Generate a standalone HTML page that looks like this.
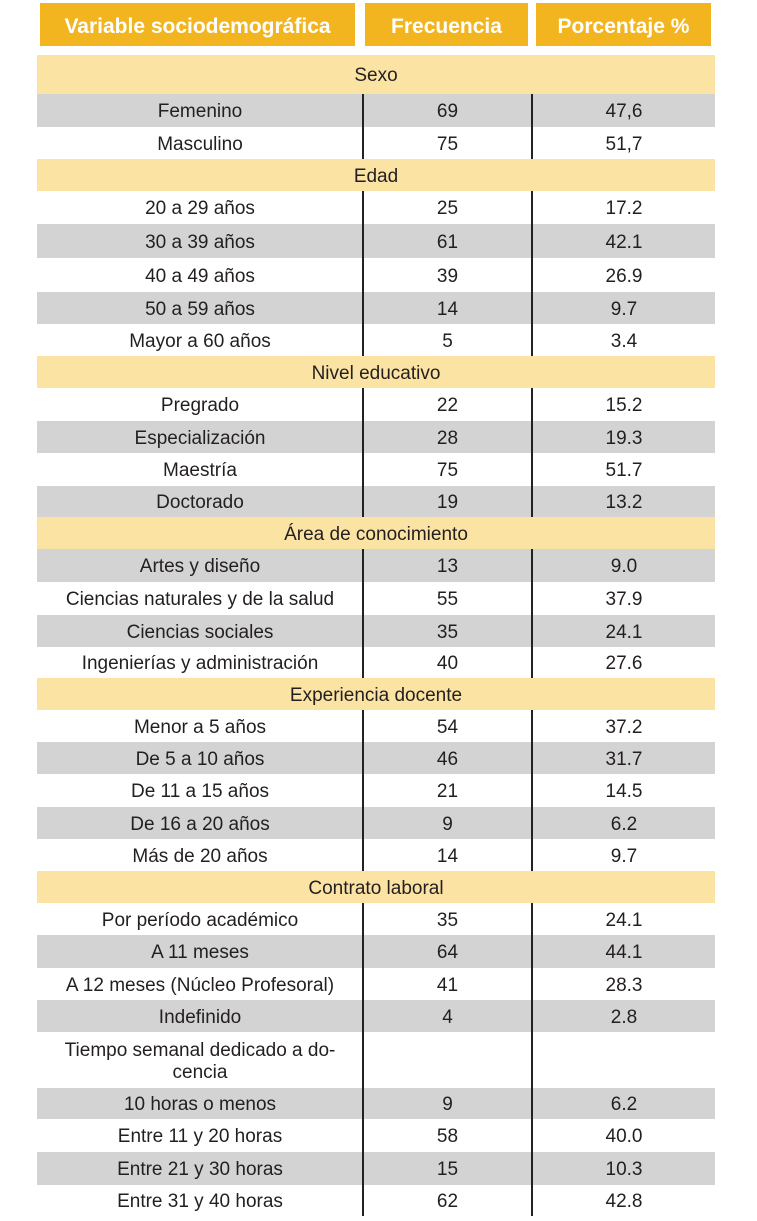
<!DOCTYPE html>
<html><head><meta charset="utf-8">
<style>
body{margin:0;width:757px;height:1221px;background:#fff;position:relative;overflow:hidden;font-family:"Liberation Sans",sans-serif;color:#231f20}
.h{position:absolute;top:3px;height:43px;background:#F2B51F;color:#fff;font-weight:bold;font-size:21px;display:flex;align-items:center;justify-content:center;padding-top:4px;box-sizing:border-box}
.r{position:absolute;left:37px;width:678px}
.c{position:absolute;top:0;bottom:0;display:flex;align-items:center;justify-content:center;text-align:center;font-size:19px;line-height:22px;padding-top:3px;box-sizing:border-box}
.v{position:absolute;width:2px;background:#222}
</style></head><body>
<div class="h" style="left:40px;width:315px">Variable sociodemográfica</div>
<div class="h" style="left:365px;width:163px">Frecuencia</div>
<div class="h" style="left:536px;width:175px">Porcentaje %</div>
<div id="t"></div>
<script>
const labels=["Sexo","Femenino","Masculino","Edad","20 a 29 años","30 a 39 años","40 a 49 años","50 a 59 años","Mayor a 60 años","Nivel educativo","Pregrado","Especialización","Maestría","Doctorado","Área de conocimiento","Artes y diseño","Ciencias naturales y de la salud","Ciencias sociales","Ingenierías y administración","Experiencia docente","Menor a 5 años","De 5 a 10 años","De 11 a 15 años","De 16 a 20 años","Más de 20 años","Contrato laboral","Por período académico","A 11 meses","A 12 meses (Núcleo Profesoral)","Indefinido","Tiempo semanal dedicado a do-<br>cencia","10 horas o menos","Entre 11 y 20 horas","Entre 21 y 30 horas","Entre 31 y 40 horas"];
const freqs=["","69","75","","25","61","39","14","5","","22","28","75","19","","13","55","35","40","","54","46","21","9","14","","35","64","41","4","","9","58","15","62"];
const pcts=["","47,6","51,7","","17.2","42.1","26.9","9.7","3.4","","15.2","19.3","51.7","13.2","","9.0","37.9","24.1","27.6","","37.2","31.7","14.5","6.2","9.7","","24.1","44.1","28.3","2.8","","6.2","40.0","10.3","42.8"];
const kinds=["s","g","w","s","w","g","w","g","w","s","w","g","w","g","s","g","w","g","w","s","w","g","w","g","w","s","w","g","w","g","w","g","w","g","w"];
const tops=[55,94,127,159,191,224,258,292,324,356,388,421,453,486,517,549,582,615,647,678,710,742,774,807,839,871,903,935,968,1000,1032,1088,1119,1152,1185,1216];
const t=document.getElementById('t');
const bg={s:'#FBE3A3',g:'#D3D3D3',w:'#fff'};
labels.forEach((lab,i)=>{
 const r=document.createElement('div');
 
 
 r.className='r';
 r.style.top=tops[i]+'px';r.style.height=(tops[i+1]-tops[i])+'px';r.style.background=bg[kinds[i]];
 if(kinds[i]==='s'){
  r.innerHTML='<div class="c" style="left:0;width:678px">'+lab+'</div>';
 }else{
  r.innerHTML='<div class="c" style="left:0;width:326px">'+lab+'</div>'+
  '<div class="c" style="left:327px;width:167px">'+freqs[i]+'</div>'+
  '<div class="c" style="left:496px;width:182px">'+pcts[i]+'</div>';
  [325,494].forEach(x=>{const v=document.createElement('div');
   
   
   v.className='v';v.style.left=x+'px';v.style.top='0';v.style.bottom='0';r.appendChild(v);});
 }
 t.appendChild(r);
});
</script>
</body></html>
